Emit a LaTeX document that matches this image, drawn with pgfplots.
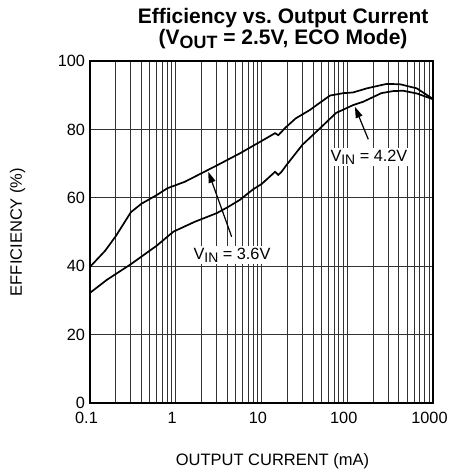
\documentclass[border=0pt]{standalone}
\usepackage{fontspec}
\setmainfont{Liberation Sans}
\usepackage{graphicx}
\usepackage{pgfplots}
\pgfplotsset{compat=1.18}
\usetikzlibrary{arrows.meta}
\newcommand{\sub}[1]{\raisebox{-0.35ex}{\scalebox{0.85}{#1}}}

\pgfplotstableread{
x y
0.1 39.8
0.15 44.5
0.2 48.8
0.3 55.8
0.4 58.3
0.6 60.8
0.8 62.8
1.28 64.7
2.4 68.2
3.2 69.8
5.6 73.0
10 76.6
14.4 78.9
15.7 78.3
17 79.2
19 80.5
25 83.2
36.8 85.7
45 87.3
63 89.9
90 90.6
117 90.8
169 92.0
288 93.3
412 93.2
646 92.0
1000 88.9
}\vinlow

\pgfplotstableread{
x y
0.1 32.2
0.157 36.0
0.3 40.6
0.6 46.0
0.94 50.1
1.67 53.0
3.0 55.5
4.0 57.2
5.6 59.4
8 62.5
10 64.0
14.4 67.6
15.7 66.7
17 67.5
19.6 69.6
30 75.5
48 80.3
74 84.8
117 87.1
154 88.1
250 90.6
344 91.2
450 91.3
650 90.5
1000 88.8
}\vinhigh

\begin{document}
\begin{tikzpicture}[x=1pt,y=1pt]
\useasboundingbox (0,0) rectangle (449,473);
\begin{axis}[
    at={(90pt,70pt)}, anchor=south west,
    scale only axis, width=343pt, height=342pt,
    xmode=log, xmin=0.1, xmax=1000, ymin=0, ymax=100,
    xtick={0.1,1,10,100,1000},
    xticklabels={0.1,1,10,100,1000},
    minor xtick={0.2,0.3,0.4,0.5,0.6,0.7,0.8,0.9,2,3,4,5,6,7,8,9,20,30,40,50,60,70,80,90,200,300,400,500,600,700,800,900},
    ytick={0,20,40,60,80,100},
    grid=both,
    major grid style={black!80, line width=0.9pt},
    minor grid style={black!80, line width=0.9pt},
    major tick length=0pt, minor tick length=0pt,
    axis line style={line width=2pt},
    tick label style={font=\fontsize{16.3}{16.3}\selectfont},
    /pgf/number format/assume math mode=true,
    xticklabel style={yshift=-6pt, xshift=-3.5pt},
    yticklabel style={xshift=-1.5pt},
    xlabel={OUTPUT CURRENT (mA)},
    ylabel={EFFICIENCY (\%)},
    label style={font=\fontsize{16.5}{16.5}\selectfont},
    xlabel style={at={(axis description cs:0.532,-0.17)}, anchor=center},
    ylabel style={at={(axis description cs:-0.211,0.5)}, anchor=center},
    title={Efficiency vs.\ Output Current\\(V\sub{OUT} = 2.5V, ECO Mode)},
    title style={at={(axis description cs:0.563,1.077)}, anchor=center, align=center,
        font=\bfseries\fontsize{21}{21}\selectfont},
]
\addplot[black, line width=1.7pt] table {\vinlow};
\addplot[black, line width=1.7pt] table {\vinhigh};

\draw[-{Triangle[length=11pt,width=7pt]}, line width=1.2pt]
    (axis cs:4.49,48.6) -- (axis cs:2.4,67.6);
\draw[-{Triangle[length=11pt,width=7pt]}, line width=1.2pt]
    (axis cs:176,77.1) -- (axis cs:123,86.6);
\node[fill=white, inner sep=2pt, font=\fontsize{16.3}{16.3}\selectfont]
    at (axis cs:4.53,43.3) {V\sub{IN} = 3.6V};
\node[fill=white, inner sep=2pt, font=\fontsize{16.3}{16.3}\selectfont]
    at (axis cs:179,71.9) {V\sub{IN} = 4.2V};
\end{axis}
\end{tikzpicture}
\end{document}
